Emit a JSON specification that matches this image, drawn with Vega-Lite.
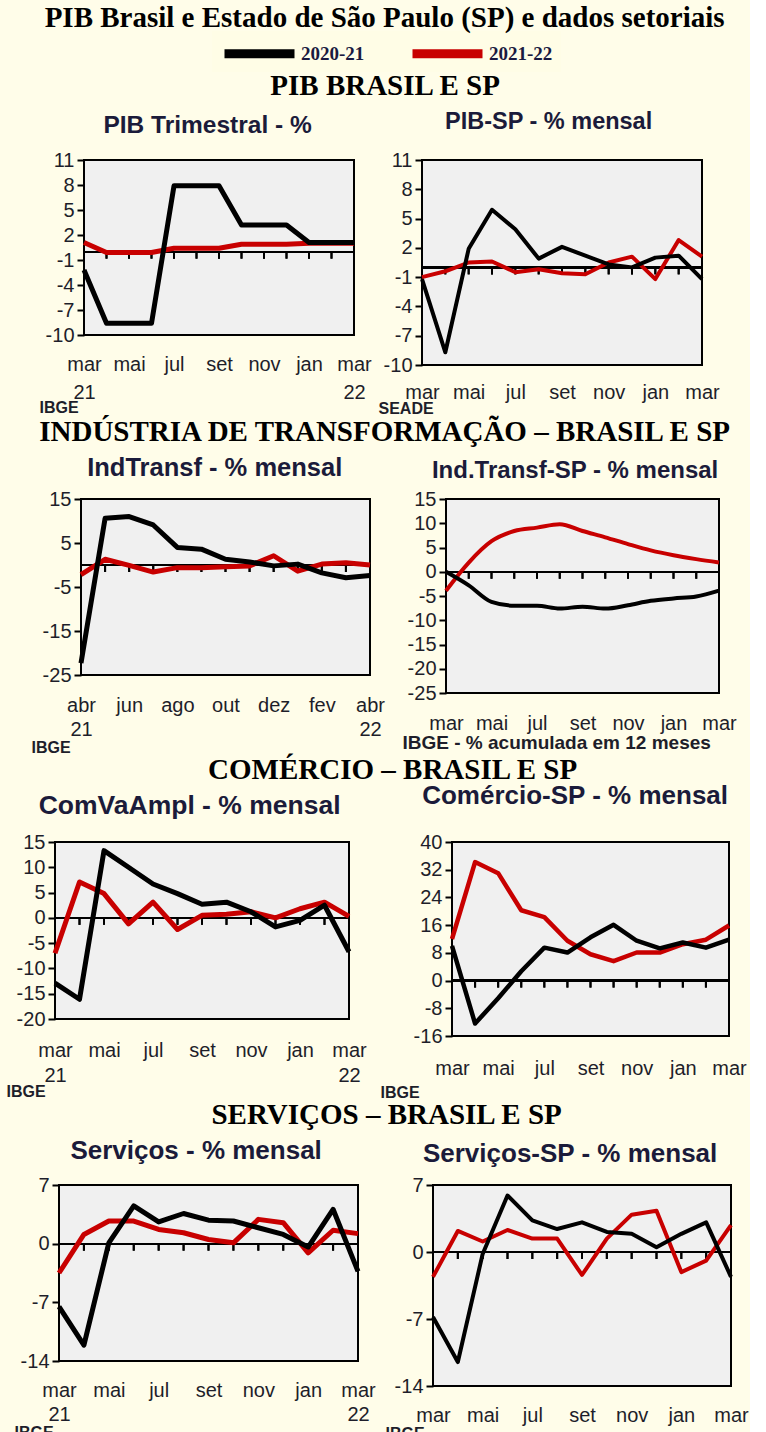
{
  "$schema": "https://vega.github.io/schema/vega-lite/v6.json",
  "background": "#fffde9",
  "padding": {"left": 0, "top": 4, "right": 0, "bottom": 0},
  "title": {"text": "PIB Brasil e Estado de São Paulo (SP) e dados setoriais", "font": "Liberation Serif", "fontSize": 29, "fontWeight": "bold", "color": "#000000", "anchor": "middle", "offset": -2, "dx": 10},
  "spacing": 0,
  "vconcat": [
    {
      "title": {"text": "PIB BRASIL E SP", "font": "Liberation Serif", "fontSize": 29, "fontWeight": "bold", "color": "#000000", "anchor": "middle", "offset": 8, "dx": 25},
      "spacing": 4,
      "hconcat": [
        {"width": 29, "height": 10, "data": {"values": []}, "mark": "point", "view": {"fill": null, "stroke": null}},
        {
          "width": 270, "height": 175,
          "title": {"text": "PIB Trimestral - %", "offset": 12, "fontSize": 24.5, "dx": 5},
          "data": {"values": [
            {"mes": "mar/21", "serie": "2021-22", "valor": 1.1}, {"mes": "abr/21", "serie": "2021-22", "valor": -0.1}, {"mes": "mai/21", "serie": "2021-22", "valor": -0.1}, {"mes": "jun/21", "serie": "2021-22", "valor": -0.1}, {"mes": "jul/21", "serie": "2021-22", "valor": 0.4}, {"mes": "ago/21", "serie": "2021-22", "valor": 0.4}, {"mes": "set/21", "serie": "2021-22", "valor": 0.4}, {"mes": "out/21", "serie": "2021-22", "valor": 0.9}, {"mes": "nov/21", "serie": "2021-22", "valor": 0.9}, {"mes": "dez/21", "serie": "2021-22", "valor": 0.9}, {"mes": "jan/22", "serie": "2021-22", "valor": 1.0}, {"mes": "fev/22", "serie": "2021-22", "valor": 1.0}, {"mes": "mar/22", "serie": "2021-22", "valor": 1.0},
            {"mes": "mar/21", "serie": "2020-21", "valor": -2.2}, {"mes": "abr/21", "serie": "2020-21", "valor": -8.6}, {"mes": "mai/21", "serie": "2020-21", "valor": -8.6}, {"mes": "jun/21", "serie": "2020-21", "valor": -8.6}, {"mes": "jul/21", "serie": "2020-21", "valor": 7.9}, {"mes": "ago/21", "serie": "2020-21", "valor": 7.9}, {"mes": "set/21", "serie": "2020-21", "valor": 7.9}, {"mes": "out/21", "serie": "2020-21", "valor": 3.2}, {"mes": "nov/21", "serie": "2020-21", "valor": 3.2}, {"mes": "dez/21", "serie": "2020-21", "valor": 3.2}, {"mes": "jan/22", "serie": "2020-21", "valor": 1.1}, {"mes": "fev/22", "serie": "2020-21", "valor": 1.1}, {"mes": "mar/22", "serie": "2020-21", "valor": 1.1}
          ]},
          "layer": [
            {"mark": {"type": "rule", "color": "#000000", "strokeWidth": 1.5}, "encoding": {"y": {"datum": 0, "type": "quantitative", "scale": {"domain": [-10, 11], "nice": false, "zero": false}, "axis": {"values": [11, 8, 5, 2, -1, -4, -7, -10], "labelExpr": "'' + datum.value", "labelOverlap": false, "title": null, "minExtent": 50, "maxExtent": 50}}}},
            {"mark": {"type": "rule", "color": "#000000", "strokeWidth": 2, "y2Offset": 7}, "encoding": {"x": {"field": "mes", "type": "ordinal", "sort": null}, "y": {"datum": 0, "type": "quantitative", "axis": {"values": [11, 8, 5, 2, -1, -4, -7, -10], "labelExpr": "'' + datum.value", "labelOverlap": false, "title": null, "minExtent": 50, "maxExtent": 50}}, "y2": {"datum": 0}}},
            {"mark": {"type": "line", "strokeWidth": 5}, "encoding": {
              "x": {"field": "mes", "type": "ordinal", "sort": null, "scale": {"type": "point", "padding": 0}, "axis": {"values": ["mar/21", "mai/21", "jul/21", "set/21", "nov/21", "jan/22", "mar/22"], "labelExpr": "datum.value == 'mar/21' ? ['mar', '21'] : datum.value == 'mar/22' ? ['mar', '22'] : substring(datum.value, 0, 3)", "labelPadding": 19, "labelLineHeight": 28, "labelOverlap": false, "title": "IBGE", "titleX": -45, "titlePadding": -3}},
              "y": {"field": "valor", "type": "quantitative", "axis": {"values": [11, 8, 5, 2, -1, -4, -7, -10], "labelExpr": "'' + datum.value", "labelOverlap": false, "title": null, "minExtent": 50, "maxExtent": 50}},
              "color": {"field": "serie", "type": "nominal", "scale": {"domain": ["2020-21", "2021-22"], "range": ["#000000", "#c80000"]}, "legend": {"orient": "none", "legendX": 212, "legendY": -129, "direction": "horizontal", "title": null, "symbolType": "M-1,0H6", "symbolSize": 400, "symbolStrokeWidth": 9, "labelFont": "Liberation Serif", "labelFontSize": 19, "labelFontWeight": "bold", "labelColor": "#1a1a40", "fillColor": "#fffde6", "padding": 8, "columnPadding": 43, "labelOffset": 52}}
            }}
          ]
        },
        {
          "width": 280, "height": 205,
          "title": {"text": "PIB-SP - % mensal", "offset": 17, "fontSize": 23.5},
          "data": {"values": [
            {"mes": "mar/21", "serie": "2021-22", "valor": -1.0}, {"mes": "abr/21", "serie": "2021-22", "valor": -0.4}, {"mes": "mai/21", "serie": "2021-22", "valor": 0.5}, {"mes": "jun/21", "serie": "2021-22", "valor": 0.6}, {"mes": "jul/21", "serie": "2021-22", "valor": -0.5}, {"mes": "ago/21", "serie": "2021-22", "valor": -0.2}, {"mes": "set/21", "serie": "2021-22", "valor": -0.6}, {"mes": "out/21", "serie": "2021-22", "valor": -0.7}, {"mes": "nov/21", "serie": "2021-22", "valor": 0.5}, {"mes": "dez/21", "serie": "2021-22", "valor": 1.1}, {"mes": "jan/22", "serie": "2021-22", "valor": -1.2}, {"mes": "fev/22", "serie": "2021-22", "valor": 2.8}, {"mes": "mar/22", "serie": "2021-22", "valor": 1.1},
            {"mes": "mar/21", "serie": "2020-21", "valor": -1.2}, {"mes": "abr/21", "serie": "2020-21", "valor": -8.7}, {"mes": "mai/21", "serie": "2020-21", "valor": 1.9}, {"mes": "jun/21", "serie": "2020-21", "valor": 5.9}, {"mes": "jul/21", "serie": "2020-21", "valor": 3.9}, {"mes": "ago/21", "serie": "2020-21", "valor": 0.9}, {"mes": "set/21", "serie": "2020-21", "valor": 2.1}, {"mes": "out/21", "serie": "2020-21", "valor": 1.2}, {"mes": "nov/21", "serie": "2020-21", "valor": 0.3}, {"mes": "dez/21", "serie": "2020-21", "valor": 0.0}, {"mes": "jan/22", "serie": "2020-21", "valor": 1.0}, {"mes": "fev/22", "serie": "2020-21", "valor": 1.2}, {"mes": "mar/22", "serie": "2020-21", "valor": -1.2}
          ]},
          "layer": [
            {"mark": {"type": "rule", "color": "#000000", "strokeWidth": 1.5}, "encoding": {"y": {"datum": 0, "type": "quantitative", "scale": {"domain": [-10, 11], "nice": false, "zero": false}, "axis": {"values": [11, 8, 5, 2, -1, -4, -7, -10], "labelExpr": "'' + datum.value", "labelOverlap": false, "title": null, "minExtent": 44, "maxExtent": 44}}}},
            {"mark": {"type": "rule", "color": "#000000", "strokeWidth": 2, "y2Offset": 7}, "encoding": {"x": {"field": "mes", "type": "ordinal", "sort": null}, "y": {"datum": 0, "type": "quantitative", "axis": {"values": [11, 8, 5, 2, -1, -4, -7, -10], "labelExpr": "'' + datum.value", "labelOverlap": false, "title": null, "minExtent": 44, "maxExtent": 44}}, "y2": {"datum": 0}}},
            {"mark": {"type": "line", "strokeWidth": 4}, "encoding": {
              "x": {"field": "mes", "type": "ordinal", "sort": null, "scale": {"type": "point", "padding": 0}, "axis": {"values": ["mar/21", "mai/21", "jul/21", "set/21", "nov/21", "jan/22", "mar/22"], "labelExpr": "substring(datum.value, 0, 3)", "labelPadding": 17, "labelOverlap": false, "title": "SEADE", "titleX": -44, "titlePadding": -2}},
              "y": {"field": "valor", "type": "quantitative", "axis": {"values": [11, 8, 5, 2, -1, -4, -7, -10], "labelExpr": "'' + datum.value", "labelOverlap": false, "title": null, "minExtent": 44, "maxExtent": 44}},
              "color": {"field": "serie", "type": "nominal"}
            }}
          ]
        }
      ]
    },
    {
      "title": {"text": "INDÚSTRIA DE TRANSFORMAÇÃO – BRASIL E SP", "font": "Liberation Serif", "fontSize": 29, "fontWeight": "bold", "color": "#000000", "anchor": "middle", "offset": 8, "dx": 16},
      "spacing": 15,
      "hconcat": [
        {"width": 15, "height": 10, "data": {"values": []}, "mark": "point", "view": {"fill": null, "stroke": null}},
        {
          "width": 289, "height": 176,
          "title": {"text": "IndTransf - % mensal", "offset": 8, "fontSize": 25.5, "dx": 7},
          "data": {"values": [
            {"mes": "abr/21", "serie": "2021-22", "valor": -2.2}, {"mes": "mai/21", "serie": "2021-22", "valor": 1.3}, {"mes": "jun/21", "serie": "2021-22", "valor": -0.1}, {"mes": "jul/21", "serie": "2021-22", "valor": -1.6}, {"mes": "ago/21", "serie": "2021-22", "valor": -0.6}, {"mes": "set/21", "serie": "2021-22", "valor": -0.6}, {"mes": "out/21", "serie": "2021-22", "valor": -0.4}, {"mes": "nov/21", "serie": "2021-22", "valor": -0.2}, {"mes": "dez/21", "serie": "2021-22", "valor": 2.1}, {"mes": "jan/22", "serie": "2021-22", "valor": -1.4}, {"mes": "fev/22", "serie": "2021-22", "valor": 0.2}, {"mes": "mar/22", "serie": "2021-22", "valor": 0.5}, {"mes": "abr/22", "serie": "2021-22", "valor": 0.0},
            {"mes": "abr/21", "serie": "2020-21", "valor": -22.3}, {"mes": "mai/21", "serie": "2020-21", "valor": 10.6}, {"mes": "jun/21", "serie": "2020-21", "valor": 11.0}, {"mes": "jul/21", "serie": "2020-21", "valor": 9.1}, {"mes": "ago/21", "serie": "2020-21", "valor": 4.0}, {"mes": "set/21", "serie": "2020-21", "valor": 3.6}, {"mes": "out/21", "serie": "2020-21", "valor": 1.3}, {"mes": "nov/21", "serie": "2020-21", "valor": 0.7}, {"mes": "dez/21", "serie": "2020-21", "valor": -0.2}, {"mes": "jan/22", "serie": "2020-21", "valor": 0.2}, {"mes": "fev/22", "serie": "2020-21", "valor": -1.8}, {"mes": "mar/22", "serie": "2020-21", "valor": -2.9}, {"mes": "abr/22", "serie": "2020-21", "valor": -2.4}
          ]},
          "layer": [
            {"mark": {"type": "rule", "color": "#000000", "strokeWidth": 1.5}, "encoding": {"y": {"datum": 0, "type": "quantitative", "scale": {"domain": [-25, 15], "nice": false, "zero": false}, "axis": {"values": [15, 5, -5, -15, -25], "labelExpr": "'' + datum.value", "labelOverlap": false, "title": null, "minExtent": 50, "maxExtent": 50}}}},
            {"mark": {"type": "rule", "color": "#000000", "strokeWidth": 2, "y2Offset": 7}, "encoding": {"x": {"field": "mes", "type": "ordinal", "sort": null}, "y": {"datum": 0, "type": "quantitative", "axis": {"values": [15, 5, -5, -15, -25], "labelExpr": "'' + datum.value", "labelOverlap": false, "title": null, "minExtent": 50, "maxExtent": 50}}, "y2": {"datum": 0}}},
            {"mark": {"type": "line", "strokeWidth": 5}, "encoding": {
              "x": {"field": "mes", "type": "ordinal", "sort": null, "scale": {"type": "point", "padding": 0}, "axis": {"values": ["abr/21", "jun/21", "ago/21", "out/21", "dez/21", "fev/22", "abr/22"], "labelExpr": "datum.value == 'abr/21' ? ['abr', '21'] : datum.value == 'abr/22' ? ['abr', '22'] : substring(datum.value, 0, 3)", "labelPadding": 20, "labelLineHeight": 24, "labelOverlap": false, "title": "IBGE", "titleX": -50}},
              "y": {"field": "valor", "type": "quantitative", "axis": {"values": [15, 5, -5, -15, -25], "labelExpr": "'' + datum.value", "labelOverlap": false, "title": null, "minExtent": 50, "maxExtent": 50}},
              "color": {"field": "serie", "type": "nominal"}
            }}
          ]
        },
        {
          "width": 273, "height": 194,
          "title": {"text": "Ind.Transf-SP - % mensal", "offset": 6, "fontSize": 24, "dx": 6},
          "data": {"values": [
            {"mes": "mar/21", "serie": "2021-22", "valor": -3.9}, {"mes": "abr/21", "serie": "2021-22", "valor": 1.9}, {"mes": "mai/21", "serie": "2021-22", "valor": 6.3}, {"mes": "jun/21", "serie": "2021-22", "valor": 8.4}, {"mes": "jul/21", "serie": "2021-22", "valor": 9.1}, {"mes": "ago/21", "serie": "2021-22", "valor": 9.8}, {"mes": "set/21", "serie": "2021-22", "valor": 8.4}, {"mes": "out/21", "serie": "2021-22", "valor": 7.1}, {"mes": "nov/21", "serie": "2021-22", "valor": 5.7}, {"mes": "dez/21", "serie": "2021-22", "valor": 4.4}, {"mes": "jan/22", "serie": "2021-22", "valor": 3.4}, {"mes": "fev/22", "serie": "2021-22", "valor": 2.6}, {"mes": "mar/22", "serie": "2021-22", "valor": 1.9},
            {"mes": "mar/21", "serie": "2020-21", "valor": 0.0}, {"mes": "abr/21", "serie": "2020-21", "valor": -2.8}, {"mes": "mai/21", "serie": "2020-21", "valor": -6.2}, {"mes": "jun/21", "serie": "2020-21", "valor": -7.0}, {"mes": "jul/21", "serie": "2020-21", "valor": -7.0}, {"mes": "ago/21", "serie": "2020-21", "valor": -7.6}, {"mes": "set/21", "serie": "2020-21", "valor": -7.2}, {"mes": "out/21", "serie": "2020-21", "valor": -7.6}, {"mes": "nov/21", "serie": "2020-21", "valor": -6.9}, {"mes": "dez/21", "serie": "2020-21", "valor": -6.0}, {"mes": "jan/22", "serie": "2020-21", "valor": -5.5}, {"mes": "fev/22", "serie": "2020-21", "valor": -5.1}, {"mes": "mar/22", "serie": "2020-21", "valor": -3.9}
          ]},
          "layer": [
            {"mark": {"type": "rule", "color": "#000000", "strokeWidth": 1.5}, "encoding": {"y": {"datum": 0, "type": "quantitative", "scale": {"domain": [-25, 15], "nice": false, "zero": false}, "axis": {"values": [15, 10, 5, 0, -5, -10, -15, -20, -25], "labelExpr": "'' + datum.value", "labelOverlap": false, "title": null, "minExtent": 44, "maxExtent": 44}}}},
            {"mark": {"type": "rule", "color": "#000000", "strokeWidth": 2, "y2Offset": 7}, "encoding": {"x": {"field": "mes", "type": "ordinal", "sort": null}, "y": {"datum": 0, "type": "quantitative", "axis": {"values": [15, 10, 5, 0, -5, -10, -15, -20, -25], "labelExpr": "'' + datum.value", "labelOverlap": false, "title": null, "minExtent": 44, "maxExtent": 44}}, "y2": {"datum": 0}}},
            {"mark": {"type": "line", "strokeWidth": 4, "interpolate": "monotone"}, "encoding": {
              "x": {"field": "mes", "type": "ordinal", "sort": null, "scale": {"type": "point", "padding": 0}, "axis": {"values": ["mar/21", "mai/21", "jul/21", "set/21", "nov/21", "jan/22", "mar/22"], "labelExpr": "substring(datum.value, 0, 3)", "labelPadding": 20, "labelOverlap": false, "title": "IBGE - % acumulada em 12 meses", "titleFontSize": 19, "titleX": -44}},
              "y": {"field": "valor", "type": "quantitative", "axis": {"values": [15, 10, 5, 0, -5, -10, -15, -20, -25], "labelExpr": "'' + datum.value", "labelOverlap": false, "title": null, "minExtent": 44, "maxExtent": 44}},
              "color": {"field": "serie", "type": "nominal"}
            }}
          ]
        }
      ]
    },
    {
      "title": {"text": "COMÉRCIO – BRASIL E SP", "font": "Liberation Serif", "fontSize": 29, "fontWeight": "bold", "color": "#000000", "anchor": "middle", "offset": -3, "dx": 19},
      "spacing": 3,
      "hconcat": [
        {"width": 1, "height": 10, "data": {"values": []}, "mark": "point", "view": {"fill": null, "stroke": null}},
        {
          "width": 294, "height": 177,
          "title": {"text": "ComVaAmpl - % mensal", "offset": 13, "fontSize": 26.5, "dx": 4},
          "data": {"values": [
            {"mes": "mar/21", "serie": "2021-22", "valor": -7.0}, {"mes": "abr/21", "serie": "2021-22", "valor": 7.1}, {"mes": "mai/21", "serie": "2021-22", "valor": 4.8}, {"mes": "jun/21", "serie": "2021-22", "valor": -1.2}, {"mes": "jul/21", "serie": "2021-22", "valor": 3.1}, {"mes": "ago/21", "serie": "2021-22", "valor": -2.3}, {"mes": "set/21", "serie": "2021-22", "valor": 0.5}, {"mes": "out/21", "serie": "2021-22", "valor": 0.7}, {"mes": "nov/21", "serie": "2021-22", "valor": 1.2}, {"mes": "dez/21", "serie": "2021-22", "valor": 0.0}, {"mes": "jan/22", "serie": "2021-22", "valor": 1.8}, {"mes": "fev/22", "serie": "2021-22", "valor": 3.1}, {"mes": "mar/22", "serie": "2021-22", "valor": 0.3},
            {"mes": "mar/21", "serie": "2020-21", "valor": -12.9}, {"mes": "abr/21", "serie": "2020-21", "valor": -16.1}, {"mes": "mai/21", "serie": "2020-21", "valor": 13.3}, {"mes": "jun/21", "serie": "2020-21", "valor": 10.0}, {"mes": "jul/21", "serie": "2020-21", "valor": 6.7}, {"mes": "ago/21", "serie": "2020-21", "valor": 4.8}, {"mes": "set/21", "serie": "2020-21", "valor": 2.7}, {"mes": "out/21", "serie": "2020-21", "valor": 3.1}, {"mes": "nov/21", "serie": "2020-21", "valor": 1.2}, {"mes": "dez/21", "serie": "2020-21", "valor": -1.8}, {"mes": "jan/22", "serie": "2020-21", "valor": -0.5}, {"mes": "fev/22", "serie": "2020-21", "valor": 2.5}, {"mes": "mar/22", "serie": "2020-21", "valor": -6.7}
          ]},
          "layer": [
            {"mark": {"type": "rule", "color": "#000000", "strokeWidth": 1.5}, "encoding": {"y": {"datum": 0, "type": "quantitative", "scale": {"domain": [-20, 15], "nice": false, "zero": false}, "axis": {"values": [15, 10, 5, 0, -5, -10, -15, -20], "labelExpr": "'' + datum.value", "labelOverlap": false, "title": null, "minExtent": 50, "maxExtent": 50}}}},
            {"mark": {"type": "rule", "color": "#000000", "strokeWidth": 2, "y2Offset": 7}, "encoding": {"x": {"field": "mes", "type": "ordinal", "sort": null}, "y": {"datum": 0, "type": "quantitative", "axis": {"values": [15, 10, 5, 0, -5, -10, -15, -20], "labelExpr": "'' + datum.value", "labelOverlap": false, "title": null, "minExtent": 50, "maxExtent": 50}}, "y2": {"datum": 0}}},
            {"mark": {"type": "line", "strokeWidth": 5}, "encoding": {
              "x": {"field": "mes", "type": "ordinal", "sort": null, "scale": {"type": "point", "padding": 0}, "axis": {"values": ["mar/21", "mai/21", "jul/21", "set/21", "nov/21", "jan/22", "mar/22"], "labelExpr": "datum.value == 'mar/21' ? ['mar', '21'] : datum.value == 'mar/22' ? ['mar', '22'] : substring(datum.value, 0, 3)", "labelPadding": 21, "labelLineHeight": 25, "labelOverlap": false, "title": "IBGE", "titleX": -49, "titlePadding": -2}},
              "y": {"field": "valor", "type": "quantitative", "axis": {"values": [15, 10, 5, 0, -5, -10, -15, -20], "labelExpr": "'' + datum.value", "labelOverlap": false, "title": null, "minExtent": 50, "maxExtent": 50}},
              "color": {"field": "serie", "type": "nominal"}
            }}
          ]
        },
        {
          "width": 277, "height": 194,
          "title": {"text": "Comércio-SP -  % mensal", "offset": 23, "fontSize": 26, "dx": 16},
          "data": {"values": [
            {"mes": "mar/21", "serie": "2021-22", "valor": 12.0}, {"mes": "abr/21", "serie": "2021-22", "valor": 34.2}, {"mes": "mai/21", "serie": "2021-22", "valor": 31.0}, {"mes": "jun/21", "serie": "2021-22", "valor": 20.3}, {"mes": "jul/21", "serie": "2021-22", "valor": 18.3}, {"mes": "ago/21", "serie": "2021-22", "valor": 11.5}, {"mes": "set/21", "serie": "2021-22", "valor": 7.6}, {"mes": "out/21", "serie": "2021-22", "valor": 5.6}, {"mes": "nov/21", "serie": "2021-22", "valor": 8.1}, {"mes": "dez/21", "serie": "2021-22", "valor": 8.1}, {"mes": "jan/22", "serie": "2021-22", "valor": 10.5}, {"mes": "fev/22", "serie": "2021-22", "valor": 11.8}, {"mes": "mar/22", "serie": "2021-22", "valor": 15.9},
            {"mes": "mar/21", "serie": "2020-21", "valor": 10.0}, {"mes": "abr/21", "serie": "2020-21", "valor": -12.4}, {"mes": "mai/21", "serie": "2020-21", "valor": -5.1}, {"mes": "jun/21", "serie": "2020-21", "valor": 2.7}, {"mes": "jul/21", "serie": "2020-21", "valor": 9.5}, {"mes": "ago/21", "serie": "2020-21", "valor": 8.1}, {"mes": "set/21", "serie": "2020-21", "valor": 12.5}, {"mes": "out/21", "serie": "2020-21", "valor": 16.1}, {"mes": "nov/21", "serie": "2020-21", "valor": 11.5}, {"mes": "dez/21", "serie": "2020-21", "valor": 9.3}, {"mes": "jan/22", "serie": "2020-21", "valor": 11.0}, {"mes": "fev/22", "serie": "2020-21", "valor": 9.5}, {"mes": "mar/22", "serie": "2020-21", "valor": 11.8}
          ]},
          "layer": [
            {"mark": {"type": "rule", "color": "#000000", "strokeWidth": 1.5}, "encoding": {"y": {"datum": 0, "type": "quantitative", "scale": {"domain": [-16, 40], "nice": false, "zero": false}, "axis": {"values": [40, 32, 24, 16, 8, 0, -8, -16], "labelExpr": "'' + datum.value", "labelOverlap": false, "title": null, "minExtent": 80, "maxExtent": 80}}}},
            {"mark": {"type": "rule", "color": "#000000", "strokeWidth": 2, "y2Offset": 7}, "encoding": {"x": {"field": "mes", "type": "ordinal", "sort": null}, "y": {"datum": 0, "type": "quantitative", "axis": {"values": [40, 32, 24, 16, 8, 0, -8, -16], "labelExpr": "'' + datum.value", "labelOverlap": false, "title": null, "minExtent": 80, "maxExtent": 80}}, "y2": {"datum": 0}}},
            {"mark": {"type": "line", "strokeWidth": 4.5}, "encoding": {
              "x": {"field": "mes", "type": "ordinal", "sort": null, "scale": {"type": "point", "padding": 0}, "axis": {"values": ["mar/21", "mai/21", "jul/21", "set/21", "nov/21", "jan/22", "mar/22"], "labelExpr": "substring(datum.value, 0, 3)", "labelPadding": 22, "labelOverlap": false, "title": "IBGE", "titleX": -72, "titlePadding": 6}},
              "y": {"field": "valor", "type": "quantitative", "axis": {"values": [40, 32, 24, 16, 8, 0, -8, -16], "labelExpr": "'' + datum.value", "labelOverlap": false, "title": null, "minExtent": 80, "maxExtent": 80}},
              "color": {"field": "serie", "type": "nominal"}
            }}
          ]
        }
      ]
    },
    {
      "title": {"text": "SERVIÇOS – BRASIL E SP", "font": "Liberation Serif", "fontSize": 29, "fontWeight": "bold", "color": "#000000", "anchor": "middle", "offset": 7, "dx": 12},
      "spacing": 4,
      "hconcat": [
        {"width": 4, "height": 10, "data": {"values": []}, "mark": "point", "view": {"fill": null, "stroke": null}},
        {
          "width": 299, "height": 176,
          "title": {"text": "Serviços - % mensal", "offset": 11, "fontSize": 26, "dx": 4},
          "data": {"values": [
            {"mes": "mar/21", "serie": "2021-22", "valor": -3.5}, {"mes": "abr/21", "serie": "2021-22", "valor": 1.1}, {"mes": "mai/21", "serie": "2021-22", "valor": 2.7}, {"mes": "jun/21", "serie": "2021-22", "valor": 2.7}, {"mes": "jul/21", "serie": "2021-22", "valor": 1.7}, {"mes": "ago/21", "serie": "2021-22", "valor": 1.3}, {"mes": "set/21", "serie": "2021-22", "valor": 0.5}, {"mes": "out/21", "serie": "2021-22", "valor": 0.1}, {"mes": "nov/21", "serie": "2021-22", "valor": 2.9}, {"mes": "dez/21", "serie": "2021-22", "valor": 2.5}, {"mes": "jan/22", "serie": "2021-22", "valor": -1.1}, {"mes": "fev/22", "serie": "2021-22", "valor": 1.6}, {"mes": "mar/22", "serie": "2021-22", "valor": 1.2},
            {"mes": "mar/21", "serie": "2020-21", "valor": -7.5}, {"mes": "abr/21", "serie": "2020-21", "valor": -12.1}, {"mes": "mai/21", "serie": "2020-21", "valor": 0.1}, {"mes": "jun/21", "serie": "2020-21", "valor": 4.5}, {"mes": "jul/21", "serie": "2020-21", "valor": 2.6}, {"mes": "ago/21", "serie": "2020-21", "valor": 3.6}, {"mes": "set/21", "serie": "2020-21", "valor": 2.8}, {"mes": "out/21", "serie": "2020-21", "valor": 2.7}, {"mes": "nov/21", "serie": "2020-21", "valor": 1.9}, {"mes": "dez/21", "serie": "2020-21", "valor": 1.1}, {"mes": "jan/22", "serie": "2020-21", "valor": -0.4}, {"mes": "fev/22", "serie": "2020-21", "valor": 4.1}, {"mes": "mar/22", "serie": "2020-21", "valor": -3.3}
          ]},
          "layer": [
            {"mark": {"type": "rule", "color": "#000000", "strokeWidth": 1.5}, "encoding": {"y": {"datum": 0, "type": "quantitative", "scale": {"domain": [-14, 7], "nice": false, "zero": false}, "axis": {"values": [7, 0, -7, -14], "labelExpr": "'' + datum.value", "labelOverlap": false, "title": null, "minExtent": 50, "maxExtent": 50}}}},
            {"mark": {"type": "rule", "color": "#000000", "strokeWidth": 2, "y2Offset": 7}, "encoding": {"x": {"field": "mes", "type": "ordinal", "sort": null}, "y": {"datum": 0, "type": "quantitative", "axis": {"values": [7, 0, -7, -14], "labelExpr": "'' + datum.value", "labelOverlap": false, "title": null, "minExtent": 50, "maxExtent": 50}}, "y2": {"datum": 0}}},
            {"mark": {"type": "line", "strokeWidth": 5}, "encoding": {
              "x": {"field": "mes", "type": "ordinal", "sort": null, "scale": {"type": "point", "padding": 0}, "axis": {"values": ["mar/21", "mai/21", "jul/21", "set/21", "nov/21", "jan/22", "mar/22"], "labelExpr": "datum.value == 'mar/21' ? ['mar', '21'] : datum.value == 'mar/22' ? ['mar', '22'] : substring(datum.value, 0, 3)", "labelPadding": 19, "labelLineHeight": 24, "labelOverlap": false, "title": "IBGE", "titleX": -45}},
              "y": {"field": "valor", "type": "quantitative", "axis": {"values": [7, 0, -7, -14], "labelExpr": "'' + datum.value", "labelOverlap": false, "title": null, "minExtent": 50, "maxExtent": 50}},
              "color": {"field": "serie", "type": "nominal"}
            }}
          ]
        },
        {
          "width": 298, "height": 201,
          "title": {"text": "Serviços-SP -  % mensal", "offset": 8, "fontSize": 26, "dx": 5},
          "data": {"values": [
            {"mes": "mar/21", "serie": "2021-22", "valor": -2.6}, {"mes": "abr/21", "serie": "2021-22", "valor": 2.2}, {"mes": "mai/21", "serie": "2021-22", "valor": 1.1}, {"mes": "jun/21", "serie": "2021-22", "valor": 2.3}, {"mes": "jul/21", "serie": "2021-22", "valor": 1.4}, {"mes": "ago/21", "serie": "2021-22", "valor": 1.4}, {"mes": "set/21", "serie": "2021-22", "valor": -2.4}, {"mes": "out/21", "serie": "2021-22", "valor": 1.4}, {"mes": "nov/21", "serie": "2021-22", "valor": 3.9}, {"mes": "dez/21", "serie": "2021-22", "valor": 4.3}, {"mes": "jan/22", "serie": "2021-22", "valor": -2.1}, {"mes": "fev/22", "serie": "2021-22", "valor": -0.9}, {"mes": "mar/22", "serie": "2021-22", "valor": 2.8},
            {"mes": "mar/21", "serie": "2020-21", "valor": -6.8}, {"mes": "abr/21", "serie": "2020-21", "valor": -11.5}, {"mes": "mai/21", "serie": "2020-21", "valor": -0.2}, {"mes": "jun/21", "serie": "2020-21", "valor": 5.9}, {"mes": "jul/21", "serie": "2020-21", "valor": 3.3}, {"mes": "ago/21", "serie": "2020-21", "valor": 2.4}, {"mes": "set/21", "serie": "2020-21", "valor": 3.1}, {"mes": "out/21", "serie": "2020-21", "valor": 2.1}, {"mes": "nov/21", "serie": "2020-21", "valor": 1.9}, {"mes": "dez/21", "serie": "2020-21", "valor": 0.5}, {"mes": "jan/22", "serie": "2020-21", "valor": 1.9}, {"mes": "fev/22", "serie": "2020-21", "valor": 3.1}, {"mes": "mar/22", "serie": "2020-21", "valor": -2.6}
          ]},
          "layer": [
            {"mark": {"type": "rule", "color": "#000000", "strokeWidth": 1.5}, "encoding": {"y": {"datum": 0, "type": "quantitative", "scale": {"domain": [-14, 7], "nice": false, "zero": false}, "axis": {"values": [7, 0, -7, -14], "labelExpr": "'' + datum.value", "labelOverlap": false, "title": null, "minExtent": 51, "maxExtent": 51}}}},
            {"mark": {"type": "rule", "color": "#000000", "strokeWidth": 2, "y2Offset": 7}, "encoding": {"x": {"field": "mes", "type": "ordinal", "sort": null}, "y": {"datum": 0, "type": "quantitative", "axis": {"values": [7, 0, -7, -14], "labelExpr": "'' + datum.value", "labelOverlap": false, "title": null, "minExtent": 51, "maxExtent": 51}}, "y2": {"datum": 0}}},
            {"mark": {"type": "line", "strokeWidth": 4}, "encoding": {
              "x": {"field": "mes", "type": "ordinal", "sort": null, "scale": {"type": "point", "padding": 0}, "axis": {"values": ["mar/21", "mai/21", "jul/21", "set/21", "nov/21", "jan/22", "mar/22"], "labelExpr": "substring(datum.value, 0, 3)", "labelPadding": 19, "labelOverlap": false, "title": "IBGE", "titleX": -48}},
              "y": {"field": "valor", "type": "quantitative", "axis": {"values": [7, 0, -7, -14], "labelExpr": "'' + datum.value", "labelOverlap": false, "title": null, "minExtent": 51, "maxExtent": 51}},
              "color": {"field": "serie", "type": "nominal"}
            }}
          ]
        }
      ]
    }
  ],
  "config": {
    "font": "Liberation Sans",
    "view": {"fill": "#f0f0f0", "stroke": "#000000", "strokeWidth": 2},
    "title": {"font": "Liberation Sans", "fontSize": 24, "fontWeight": "bold", "color": "#1b1b3a", "frame": "bounds", "anchor": "middle"},
    "axis": {"grid": false, "domain": false, "labelFont": "Liberation Sans", "labelFontSize": 20, "labelColor": "#1e1e2a", "labelOverlap": false},
    "axisY": {"ticks": true, "tickColor": "#000000", "tickWidth": 2, "tickSize": 7, "labelPadding": 3, "labelOverlap": false},
    "axisX": {"ticks": false, "labelAngle": 0, "titleFont": "Liberation Sans", "titleFontSize": 16, "titleFontWeight": "bold", "titleColor": "#1e1e2a", "titleAnchor": "start", "titleAlign": "left", "titlePadding": 0},
    "line": {"strokeJoin": "round"}
  }
}
